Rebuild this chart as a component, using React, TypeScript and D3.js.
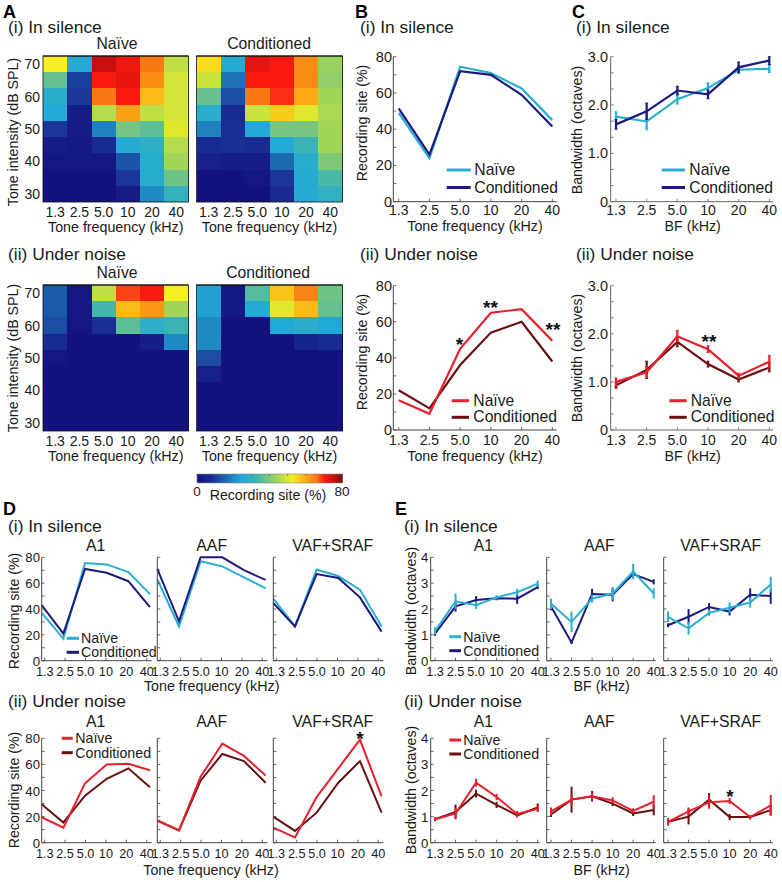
import React from "react";
import * as d3 from "d3";

const FONT = "'Liberation Sans', Arial, sans-serif";
const frequencies = ["1.3", "2.5", "5.0", "10", "20", "40"];
const intensities = [70, 65, 60, 55, 50, 45, 40, 35, 30];

const CYAN = "#2aaed0";
const NAVY = "#1c1a7c";
const RED = "#e6202c";
const MAROON = "#6a0f12";

const heatSilenceNaive = [
  [52, 25, 75, 71, 65, 47],
  [37, 10, 70, 72, 63, 49],
  [27, 9, 65, 70, 58, 49],
  [24, 3, 46, 61, 47, 49],
  [9, 3, 19, 39, 36, 50],
  [3, 2, 7, 25, 28, 46],
  [1, 1, 1, 13, 26, 44],
  [0, 0, 0, 9, 26, 38],
  [0, 0, 0, 3, 20, 30],
];
const heatSilenceCond = [
  [54, 25, 72, 70, 63, 43],
  [48, 17, 70, 70, 63, 42],
  [37, 12, 65, 69, 60, 44],
  [27, 7, 48, 56, 50, 45],
  [19, 8, 24, 39, 39, 44],
  [7, 8, 7, 24, 32, 44],
  [4, 3, 3, 16, 26, 40],
  [0, 0, 1, 9, 25, 34],
  [0, 0, 0, 7, 25, 29],
];
const heatNoiseNaive = [
  [14, 1, 47, 68, 70, 52],
  [14, 1, 33, 58, 62, 44],
  [12, 1, 8, 36, 28, 32],
  [7, 0, 0, 0, 3, 20],
  [1, 0, 0, 0, 0, 0],
  [0, 0, 0, 0, 0, 0],
  [0, 0, 0, 0, 0, 0],
  [0, 0, 0, 0, 0, 0],
  [0, 0, 0, 0, 0, 0],
];
const heatNoiseCond = [
  [23, 2, 35, 57, 64, 38],
  [23, 2, 25, 50, 58, 37],
  [20, 0, 0, 24, 27, 24],
  [20, 0, 0, 0, 5, 7],
  [12, 0, 0, 0, 0, 0],
  [4, 0, 0, 0, 0, 0],
  [0, 0, 0, 0, 0, 0],
  [0, 0, 0, 0, 0, 0],
  [0, 0, 0, 0, 0, 0],
];
const colorValues = [0, 8, 16, 24, 32, 40, 48, 52, 60, 66, 70, 74, 80];
const colorStops = ["#13127e", "#1a2f95", "#1b6ab0", "#22a9d6", "#3bb3b5", "#7fc878", "#c8e23e", "#f5ee20", "#fbaa15", "#f97015", "#f81a10", "#d5100f", "#7d0a0a"];

const siteSilenceNaive = [49, 24, 74.5, 71, 62.5, 45];
const siteSilenceCond = [51.5, 26, 72, 70, 59, 41.5];
const siteNoiseNaive = [16.5, 9, 45, 65, 67, 49.5];
const siteNoiseCond = [22, 12, 36, 54, 60, 38];

const bwSilenceNaive = [1.76, 1.66, 2.12, 2.35, 2.73, 2.75];
const bwSilenceNaiveErr = [0.1, 0.17, 0.1, 0.11, 0.08, 0.08];
const bwSilenceCond = [1.6, 1.87, 2.3, 2.22, 2.78, 2.92];
const bwSilenceCondErr = [0.1, 0.17, 0.09, 0.09, 0.11, 0.08];
const bwNoiseNaive = [1.0, 1.2, 1.95, 1.68, 1.13, 1.42];
const bwNoiseNaiveErr = [0.08, 0.12, 0.12, 0.07, 0.05, 0.13];
const bwNoiseCond = [0.93, 1.25, 1.83, 1.37, 1.05, 1.3];
const bwNoiseCondErr = [0.06, 0.18, 0.1, 0.06, 0.05, 0.09];

const dSilenceA1N = [37, 17, 75.5, 74.5, 68.5, 51.5];
const dSilenceA1C = [43, 21, 71, 68, 61.5, 41.5];
const dSilenceAAFN = [63, 26.5, 77, 73, 64.5, 56];
const dSilenceAAFC = [71, 30.5, 80, 80, 70, 62.5];
const dSilenceVSN = [48, 26.5, 70.5, 65.5, 55, 26.5];
const dSilenceVSC = [44.5, 26.5, 67, 64, 49, 22.5];
const dNoiseA1N = [19.5, 11.5, 45.5, 60, 60.5, 55.5];
const dNoiseA1C = [29.5, 15.5, 36, 49, 57, 42.5];
const dNoiseAAFN = [17, 9.5, 50.5, 76, 66.5, 51.5];
const dNoiseAAFC = [17, 9.5, 47.5, 68, 62.5, 46];
const dNoiseVSN = [11.5, 4, 35, 57, 79, 35.5];
const dNoiseVSC = [20, 9, 23, 46, 62.5, 23];

const eSilenceA1N = [1.15, 2.3, 2.15, 2.45, 2.65, 2.98];
const eSilenceA1NErr = [0.13, 0.3, 0.15, 0.08, 0.13, 0.12];
const eSilenceA1C = [1.05, 2.1, 2.35, 2.42, 2.4, 2.85];
const eSilenceA1CErr = [0.08, 0.2, 0.15, 0.08, 0.2, 0.08];
const eSilenceAAFN = [2.2, 1.5, 2.4, 2.6, 3.45, 2.6];
const eSilenceAAFNErr = [0.2, 0.4, 0.15, 0.25, 0.3, 0.2];
const eSilenceAAFC = [2.1, 0.7, 2.58, 2.55, 3.35, 3.05];
const eSilenceAAFCErr = [0.15, 0.05, 0.2, 0.25, 0.12, 0.1];
const eSilenceVSN = [1.7, 1.25, 1.85, 2.05, 2.25, 2.95];
const eSilenceVSNErr = [0.2, 0.25, 0.12, 0.2, 0.2, 0.3];
const eSilenceVSC = [1.37, 1.7, 2.08, 1.9, 2.55, 2.5];
const eSilenceVSCErr = [0.08, 0.3, 0.15, 0.15, 0.25, 0.3];
const eNoiseA1N = [0.9, 1.12, 2.3, 1.75, 1.1, 1.3];
const eNoiseA1NErr = [0.08, 0.2, 0.15, 0.12, 0.12, 0.12];
const eNoiseA1C = [0.9, 1.18, 1.88, 1.45, 1.05, 1.35];
const eNoiseA1CErr = [0.06, 0.28, 0.15, 0.12, 0.08, 0.15];
const eNoiseAAFN = [1.2, 1.65, 1.78, 1.62, 1.22, 1.57];
const eNoiseAAFNErr = [0.15, 0.2, 0.15, 0.12, 0.1, 0.25];
const eNoiseAAFC = [1.08, 1.65, 1.78, 1.5, 1.12, 1.25];
const eNoiseAAFCErr = [0.1, 0.5, 0.2, 0.1, 0.1, 0.2];
const eNoiseVSN = [0.8, 1.2, 1.55, 1.6, 0.98, 1.43];
const eNoiseVSNErr = [0.15, 0.15, 0.25, 0.12, 0.08, 0.4];
const eNoiseVSC = [0.8, 1.0, 1.65, 0.98, 0.98, 1.25];
const eNoiseVSCErr = [0.08, 0.3, 0.25, 0.12, 0.08, 0.2];

const colorScale = d3.scaleLinear<string>().domain(colorValues).range(colorStops).interpolate(d3.interpolateRgb);

type TP = { x: number; y: number; s: number; a?: "start" | "middle" | "end"; w?: number; r?: boolean; c?: string; children: React.ReactNode };
function T({ x, y, s, a = "start", w = 400, r = false, c = "#1a1a1a", children }: TP) {
  return (
    <text x={x} y={y} fontSize={s} textAnchor={a} fontWeight={w} fill={c} fontFamily={FONT}
      transform={r ? `rotate(-90 ${x} ${y})` : undefined}>{children}</text>
  );
}

function Heat({ x0, x1, y0, y1, data, yLabels }: { x0: number; x1: number; y0: number; y1: number; data: number[][]; yLabels: boolean }) {
  const x = d3.scaleBand<string>().domain(frequencies).range([x0, x1]);
  const y = d3.scaleBand<string>().domain(intensities.map(String)).range([y0, y1]);
  return (
    <g>
      <g shapeRendering="crispEdges">
        {data.map((row, i) => row.map((v, j) => (
          <rect key={`${i}-${j}`} x={x(frequencies[j])} y={y(String(intensities[i]))}
            width={j === 5 ? x.bandwidth() : x.bandwidth() + 1}
            height={i === 8 ? y.bandwidth() : y.bandwidth() + 1} fill={colorScale(v)} />
        )))}
      </g>
      <rect x={x0} y={y0} width={x1 - x0} height={y1 - y0} fill="none" stroke="#111" strokeWidth={0.8} />
      <line x1={x0} x2={x1} y1={y0} y2={y0} stroke="#111" strokeWidth={1.2} />
      {yLabels && intensities.filter((v) => v % 10 === 0).map((v) => (
        <T key={v} x={x0 - 3} y={y(String(v))! + y.bandwidth() / 2 + 5} s={14} a="end">{v}</T>
      ))}
      {frequencies.map((f) => (
        <T key={f} x={x(f)! + x.bandwidth() / 2} y={y1 + 14.7} s={14} a="middle">{f}</T>
      ))}
      <T x={(x0 + x1) / 2} y={y1 + 30} s={14.25} a="middle">Tone frequency (kHz)</T>
    </g>
  );
}

type S = { v: number[]; e?: number[]; c: string };
type LP = {
  ax: number; px0: number; px1: number; endX: number; top: number; bottom: number; max: number;
  ticks: number[]; minor: number[]; fmt?: (v: number) => string; series: S[]; lw: number; cap?: number;
  tickFont: number; labelDy: number; lab0?: number; lab1?: number; yLabels?: boolean; yLabelX?: number; axisColor?: string;
};
function Panel({ ax, px0, px1, endX, top, bottom, max, ticks, minor, fmt = String, series, lw, cap = 0, tickFont, labelDy, lab0, lab1, yLabels = true, yLabelX, axisColor = "#444" }: LP) {
  const x = d3.scalePoint<string>().domain(frequencies).range([px0, px1]);
  const lx = d3.scalePoint<string>().domain(frequencies).range([lab0 ?? px0, lab1 ?? px1]);
  const y = d3.scaleLinear().domain([0, max]).range([bottom, top]);
  const line = d3.line<number>().x((_, i) => x(frequencies[i])!).y((v) => y(v));
  return (
    <g>
      {series.map((s, k) => (
        <g key={k}>
          <path d={line(s.v)!} fill="none" stroke={s.c} strokeWidth={lw} strokeLinejoin="miter" />
          {s.e && s.v.map((v, i) => {
            const px = x(frequencies[i])!;
            return (
              <g key={i} stroke={s.c}>
                <line x1={px} x2={px} y1={y(v - s.e![i])} y2={y(v + s.e![i])} strokeWidth={lw} />
                {cap > 0 && <line x1={px - cap} x2={px + cap} y1={y(v + s.e![i])} y2={y(v + s.e![i])} strokeWidth={1} />}
                {cap > 0 && <line x1={px - cap} x2={px + cap} y1={y(v - s.e![i])} y2={y(v - s.e![i])} strokeWidth={1} />}
              </g>
            );
          })}
        </g>
      ))}
      <line x1={ax} x2={ax} y1={top} y2={bottom} stroke={axisColor} strokeWidth={1} />
      <line x1={ax} x2={endX} y1={bottom} y2={bottom} stroke={axisColor} strokeWidth={1} />
      {minor.map((v) => <line key={v} x1={ax} x2={ax + 3} y1={y(v)} y2={y(v)} stroke={axisColor} strokeWidth={0.8} />)}
      {frequencies.map((f) => <line key={f} x1={lx(f)} x2={lx(f)} y1={bottom} y2={bottom - 3} stroke={axisColor} strokeWidth={0.8} />)}
      {yLabels && ticks.map((v) => (
        <T key={v} x={yLabelX ?? ax - 2} y={y(v) + 5} s={tickFont + 0.5} a="end">{fmt(v)}</T>
      ))}
      {frequencies.map((f) => (
        <T key={f} x={lx(f)!} y={bottom + labelDy} s={tickFont} a="middle">{f}</T>
      ))}
    </g>
  );
}

function Legend({ x0, x1, tx, y1, y2, s, lw, a, b }: { x0: number; x1: number; tx: number; y1: number; y2: number; s: number; lw: number; a: string; b: string }) {
  return (
    <g>
      <line x1={x0} x2={x1} y1={y1} y2={y1} stroke={a} strokeWidth={lw} />
      <line x1={x0} x2={x1} y1={y2} y2={y2} stroke={b} strokeWidth={lw} />
      <T x={tx} y={y1 + 5} s={s}>Naïve</T>
      <T x={tx} y={y2 + 5} s={s}>Conditioned</T>
    </g>
  );
}

const Star = ({ x, cy, n = 1 }: { x: number; cy: number; n?: number }) => (
  <T x={x} y={cy + 11} s={19} a="middle" w={700} c="#111">{"*".repeat(n)}</T>
);

const range10 = d3.range(0, 81, 10);
const third = d3.range(0, 10).map((i) => i / 3);
const half = d3.range(0, 9).map((i) => i / 2);

export default function App() {
  const dAxes = [41.7, 157.3, 273.3];
  const eAxes = [430.7, 546.7, 663.7];
  const dSil = [[dSilenceA1N, dSilenceA1C], [dSilenceAAFN, dSilenceAAFC], [dSilenceVSN, dSilenceVSC]];
  const dNoi = [[dNoiseA1N, dNoiseA1C], [dNoiseAAFN, dNoiseAAFC], [dNoiseVSN, dNoiseVSC]];
  const eSil = [[eSilenceA1N, eSilenceA1NErr, eSilenceA1C, eSilenceA1CErr], [eSilenceAAFN, eSilenceAAFNErr, eSilenceAAFC, eSilenceAAFCErr], [eSilenceVSN, eSilenceVSNErr, eSilenceVSC, eSilenceVSCErr]];
  const eNoi = [[eNoiseA1N, eNoiseA1NErr, eNoiseA1C, eNoiseA1CErr], [eNoiseAAFN, eNoiseAAFNErr, eNoiseAAFC, eNoiseAAFCErr], [eNoiseVSN, eNoiseVSNErr, eNoiseVSC, eNoiseVSCErr]];
  const regions = ["A1", "AAF", "VAF+SRAF"];
  const dCenters = [95.7, 211.7, 332.7];
  const eCenters = [483.3, 599.3, 720.7];
  const barScale = d3.scaleLinear().domain([0, 80]).range([197, 342]);
  const barValues = d3.range(0, 80, 0.5);

  const T1 = (x: number, y: number, t: string) => <T x={x} y={y} s={17.4}>{t}</T>;
  const L = (x: number, y: number, t: string) => <T x={x} y={y} s={18} w={700} c="#000">{t}</T>;

  return (
    <svg width={782} height={882} viewBox="0 0 782 882" style={{ position: "absolute", left: 0, top: 0, background: "#fff" }}>
      {L(3, 18, "A")}{L(355, 18, "B")}{L(572, 18, "C")}{L(3, 515, "D")}{L(395, 515, "E")}

      {T1(8, 33, "(i) In silence")}
      <T x={117} y={49} s={15.7} a="middle">Naïve</T>
      <T x={269} y={49} s={15.7} a="middle">Conditioned</T>
      <T x={18} y={132} s={14.2} a="middle" r>Tone intensity (dB SPL)</T>
      <Heat x0={43} x1={188.5} y0={56} y1={202} data={heatSilenceNaive} yLabels />
      <Heat x0={196.5} x1={342.5} y0={56} y1={202} data={heatSilenceCond} yLabels={false} />

      {T1(8, 260, "(ii) Under noise")}
      <T x={117} y={278} s={15.7} a="middle">Naïve</T>
      <T x={268} y={278} s={15.7} a="middle">Conditioned</T>
      <T x={18} y={358} s={14.2} a="middle" r>Tone intensity (dB SPL)</T>
      <Heat x0={43} x1={188.5} y0={285} y1={431} data={heatNoiseNaive} yLabels />
      <Heat x0={196.5} x1={342.5} y0={285} y1={431} data={heatNoiseCond} yLabels={false} />

      <g shapeRendering="crispEdges">
        {barValues.map((v) => (
          <rect key={v} x={barScale(v)} y={474} width={2} height={9} fill={colorScale(v)} />
        ))}
      </g>
      <rect x={197} y={474} width={145.5} height={9} fill="none" stroke="#888" strokeWidth={0.6} />
      {range10.map((v) => <line key={v} x1={barScale(v)} x2={barScale(v)} y1={474} y2={476} stroke="#555" strokeWidth={0.6} />)}
      <T x={197} y={496} s={13.5} a="middle">0</T>
      <T x={268} y={500} s={14.2} a="middle">Recording site (%)</T>
      <T x={342} y={496} s={13.5} a="middle">80</T>

      {/* B */}
      {T1(360, 33, "(i) In silence")}
      <T x={367} y={123} s={14.2} a="middle" r>Recording site (%)</T>
      <Panel ax={393.3} px0={398.7} px1={552.3} endX={556.7} top={56.7} bottom={201.7} max={80} ticks={[0, 20, 40, 60, 80]} minor={range10}
        series={[{ v: siteSilenceNaive, c: CYAN }, { v: siteSilenceCond, c: NAVY }]} lw={2.2} tickFont={14} labelDy={13.5} yLabelX={392} />
      <Legend x0={446.7} x1={470.7} tx={474.3} y1={170} y2={187.5} s={15.7} lw={3} a={CYAN} b={NAVY} />
      <T x={475} y={230.5} s={14.25} a="middle">Tone frequency (kHz)</T>

      {T1(360, 260, "(ii) Under noise")}
      <T x={367} y={352} s={14.2} a="middle" r>Recording site (%)</T>
      <Panel ax={393.3} px0={398.7} px1={552.3} endX={556.7} top={285.7} bottom={430} max={80} ticks={[0, 20, 40, 60, 80]} minor={range10}
        series={[{ v: siteNoiseCond, c: MAROON }, { v: siteNoiseNaive, c: RED }]} lw={2.2} tickFont={14} labelDy={14.5} yLabelX={392} />
      <Legend x0={451.7} x1={469} tx={473.3} y1={400.7} y2={417.3} s={15.7} lw={3} a={RED} b={MAROON} />
      <T x={475} y={460.5} s={14.25} a="middle">Tone frequency (kHz)</T>
      <Star x={459.5} cy={340} />
      <Star x={490.5} cy={303} n={2} />
      <Star x={553} cy={325} n={2} />

      {/* C */}
      {T1(576, 33, "(i) In silence")}
      <T x={582} y={130} s={14.2} a="middle" r>Bandwidth (octaves)</T>
      <Panel ax={610.7} px0={616} px1={769.3} endX={773} top={56.7} bottom={201.7} max={3} ticks={[0, 1, 2, 3]} fmt={(v) => (v === 0 ? "0" : v.toFixed(1))} minor={third}
        series={[{ v: bwSilenceNaive, e: bwSilenceNaiveErr, c: CYAN }, { v: bwSilenceCond, e: bwSilenceCondErr, c: NAVY }]} lw={2.2} cap={1.5} tickFont={14} labelDy={13.5} yLabelX={608} axisColor="#666" />
      <Legend x0={661.7} x1={685} tx={689.3} y1={170} y2={187.5} s={15.7} lw={3} a={CYAN} b={NAVY} />
      <T x={692.7} y={230.5} s={14.25} a="middle">BF (kHz)</T>

      {T1(576, 260, "(ii) Under noise")}
      <T x={582} y={358} s={14.2} a="middle" r>Bandwidth (octaves)</T>
      <Panel ax={610.7} px0={616} px1={769.3} endX={773} top={285.7} bottom={430} max={3} ticks={[0, 1, 2, 3]} fmt={(v) => (v === 0 ? "0" : v.toFixed(1))} minor={third}
        series={[{ v: bwNoiseCond, e: bwNoiseCondErr, c: MAROON }, { v: bwNoiseNaive, e: bwNoiseNaiveErr, c: RED }]} lw={2.2} cap={1.5} tickFont={14} labelDy={14.5} yLabelX={608} axisColor="#666" />
      <Legend x0={669.3} x1={686.7} tx={690.7} y1={400.7} y2={417.3} s={15.7} lw={3} a={RED} b={MAROON} />
      <T x={692.7} y={460.5} s={14.25} a="middle">BF (kHz)</T>
      <Star x={709} cy={337} n={2} />

      {/* D */}
      {T1(8, 531.7, "(i) In silence")}
      {T1(8, 706.7, "(ii) Under noise")}
      <T x={19.3} y={611} s={14.2} a="middle" r>Recording site (%)</T>
      <T x={19.3} y={790} s={14.2} a="middle" r>Recording site (%)</T>
      {regions.map((r, i) => (
        <g key={r}>
          <T x={dCenters[i]} y={550.7} s={15.8} a="middle">{r}</T>
          <T x={dCenters[i]} y={726.7} s={15.8} a="middle">{r}</T>
          <Panel ax={dAxes[i]} px0={dAxes[i]} px1={dAxes[i] + 108.3} endX={dAxes[i] + 110} top={557.3} bottom={660.7} max={80} ticks={[0, 20, 40, 60, 80]} minor={range10}
            series={[{ v: dSil[i][0], c: CYAN }, { v: dSil[i][1], c: NAVY }]} lw={2} tickFont={12.7} labelDy={15} lab0={dAxes[i] + 3} lab1={dAxes[i] + 105} yLabels={i === 0} yLabelX={40} />
          <Panel ax={dAxes[i]} px0={dAxes[i]} px1={dAxes[i] + 108.3} endX={dAxes[i] + 110} top={738.3} bottom={842.7} max={80} ticks={[0, 20, 40, 60, 80]} minor={range10}
            series={[{ v: dNoi[i][1], c: MAROON }, { v: dNoi[i][0], c: RED }]} lw={2} tickFont={12.7} labelDy={15} lab0={dAxes[i] + 3} lab1={dAxes[i] + 105} yLabels={i === 0} yLabelX={40} />
        </g>
      ))}
      <Legend x0={66.7} x1={79} tx={81} y1={638.3} y2={652.3} s={14.2} lw={3} a={CYAN} b={NAVY} />
      <Legend x0={61.7} x1={72.7} tx={75.3} y1={738.3} y2={752.7} s={14.2} lw={3} a={RED} b={MAROON} />
      <T x={211.7} y={691} s={14.25} a="middle">Tone frequency (kHz)</T>
      <T x={211} y={875} s={14.25} a="middle">Tone frequency (kHz)</T>
      <Star x={360} cy={734} />

      {/* E */}
      {T1(404, 531.7, "(i) In silence")}
      {T1(404, 706.7, "(ii) Under noise")}
      <T x={415.7} y={611} s={14.2} a="middle" r>Bandwidth (octaves)</T>
      <T x={415.7} y={790} s={14.2} a="middle" r>Bandwidth (octaves)</T>
      {regions.map((r, i) => (
        <g key={r}>
          <T x={eCenters[i]} y={550.7} s={15.8} a="middle">{r}</T>
          <T x={eCenters[i]} y={726.7} s={15.8} a="middle">{r}</T>
          <Panel ax={eAxes[i]} px0={eAxes[i] + 4.3} px1={eAxes[i] + 107} endX={eAxes[i] + 109} top={557.3} bottom={660.7} max={4} ticks={[0, 1, 2, 3, 4]} minor={half}
            series={[{ v: eSil[i][2], e: eSil[i][3], c: NAVY }, { v: eSil[i][0], e: eSil[i][1], c: CYAN }]} lw={2} tickFont={12.7} labelDy={15} yLabels={i === 0} yLabelX={428.3} />
          <Panel ax={eAxes[i]} px0={eAxes[i] + 4.3} px1={eAxes[i] + 107} endX={eAxes[i] + 109} top={738.3} bottom={842.7} max={4} ticks={[0, 1, 2, 3, 4]} minor={half}
            series={[{ v: eNoi[i][2], e: eNoi[i][3], c: MAROON }, { v: eNoi[i][0], e: eNoi[i][1], c: RED }]} lw={2} tickFont={12.7} labelDy={15} yLabels={i === 0} yLabelX={428.3} />
        </g>
      ))}
      <Legend x0={449.3} x1={461} tx={463.3} y1={636.7} y2={650.7} s={14.2} lw={3} a={CYAN} b={NAVY} />
      <Legend x0={449.3} x1={461} tx={463.3} y1={740} y2={754} s={14.2} lw={3} a={RED} b={MAROON} />
      <T x={601.7} y={691} s={14.25} a="middle">BF (kHz)</T>
      <T x={601.7} y={875} s={14.25} a="middle">BF (kHz)</T>
      <Star x={730} cy={792} />
    </svg>
  );
}
